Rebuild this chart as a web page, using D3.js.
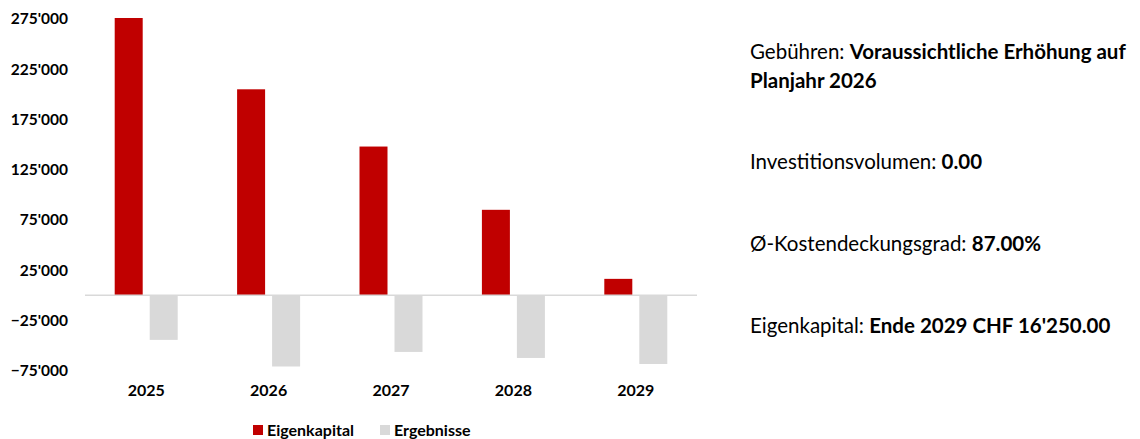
<!DOCTYPE html>
<html>
<head>
<meta charset="utf-8">
<script src="https://cdn.jsdelivr.net/npm/d3@7"></script>
<style>
  body { margin: 0; background: #fff; }
  text { font-family: Lato, "Open Sans", sans-serif; fill: #000; }
</style>
</head>
<body>
<div id="chart"></div>
<script>
const years = ["2025", "2026", "2027", "2028", "2029"];
const seriesNames = ["Eigenkapital", "Ergebnisse"];
const eigenkapital = [276000, 205000, 148000, 85000, 16250];
const ergebnisse = [-44500, -71000, -56500, -62500, -68500];
const yTicks = [275000, 225000, 175000, 125000, 75000, 25000, -25000, -75000];
const infoLines = [
  ["Gebühren: ", "Voraussichtliche Erhöhung auf"],
  ["", "Planjahr 2026"],
  ["Investitionsvolumen: ", "0.00"],
  ["Ø-Kostendeckungsgrad: ", "87.00%"],
  ["Eigenkapital: ", "Ende 2029 CHF 16'250.00"]
];

const colors = { Eigenkapital: "#c00000", Ergebnisse: "#d9d9d9" };

const svg = d3.select("#chart").append("svg")
  .attr("width", 1140)
  .attr("height", 439);

const x0 = d3.scaleBand().domain(years).range([85, 697]);
const groupW = 63;
const x1 = d3.scaleBand().domain(seriesNames)
  .range([(x0.bandwidth() - groupW) / 2, (x0.bandwidth() + groupW) / 2])
  .paddingInner(0.2);

const y = d3.scaleLinear().domain([-75000, 275000]).range([370.5, 19]);

const locale = d3.formatLocale({ decimal: ".", thousands: "'", grouping: [3], currency: ["", ""] });
const fmt = locale.format(",");

// y axis, labels only
svg.append("g")
  .attr("transform", "translate(70,0)")
  .call(d3.axisLeft(y).tickValues(yTicks).tickFormat(fmt).tickSize(0).tickPadding(2))
  .call(g => g.select(".domain").remove())
  .selectAll("text")
    .attr("font-size", 15.5)
    .attr("font-weight", "bold")
    .style("font-family", "Lato");

// bars
const rows = years.map((yr, i) => ({ year: yr, Eigenkapital: eigenkapital[i], Ergebnisse: ergebnisse[i] }));

svg.append("g")
  .selectAll("g")
  .data(rows)
  .join("g")
    .attr("transform", d => "translate(" + x0(d.year) + ",0)")
  .selectAll("rect")
  .data(d => seriesNames.map(k => ({ key: k, value: d[k] })))
  .join("rect")
    .attr("x", d => x1(d.key))
    .attr("width", x1.bandwidth())
    .attr("y", d => y(Math.max(0, d.value)))
    .attr("height", d => Math.abs(y(d.value) - y(0)))
    .attr("fill", d => colors[d.key]);

// zero line
svg.append("line")
  .attr("x1", x0.range()[0])
  .attr("x2", x0.range()[1])
  .attr("y1", y(0))
  .attr("y2", y(0))
  .attr("stroke", "#d9d9d9")
  .attr("stroke-width", 1.5);

// x axis labels
svg.append("g")
  .attr("transform", "translate(0,381)")
  .call(d3.axisBottom(x0).tickSize(0).tickPadding(4))
  .call(g => g.select(".domain").remove())
  .selectAll("text")
    .attr("font-size", 16)
    .attr("font-weight", "bold")
    .style("font-family", "Lato");

// legend
const legend = svg.append("g").attr("transform", "translate(253,425)");
const legendX = [0, 127];
seriesNames.forEach((name, i) => {
  const g = legend.append("g").attr("transform", "translate(" + legendX[i] + ",0)");
  g.append("rect").attr("width", 10).attr("height", 10).attr("fill", colors[name]);
  g.append("text")
    .attr("x", 14)
    .attr("y", 10.5)
    .attr("font-size", 16)
    .attr("font-weight", "bold")
    .text(name);
});

// info text on the right
const infoY = [59, 88, 169, 251, 333];
infoLines.forEach((parts, i) => {
  const t = svg.append("text")
    .attr("x", 750)
    .attr("y", infoY[i])
    .attr("font-size", 20.5);
  if (parts[0]) t.append("tspan").text(parts[0]);
  t.append("tspan").attr("font-weight", "bold").text(parts[1]);
});
</script>
</body>
</html>
